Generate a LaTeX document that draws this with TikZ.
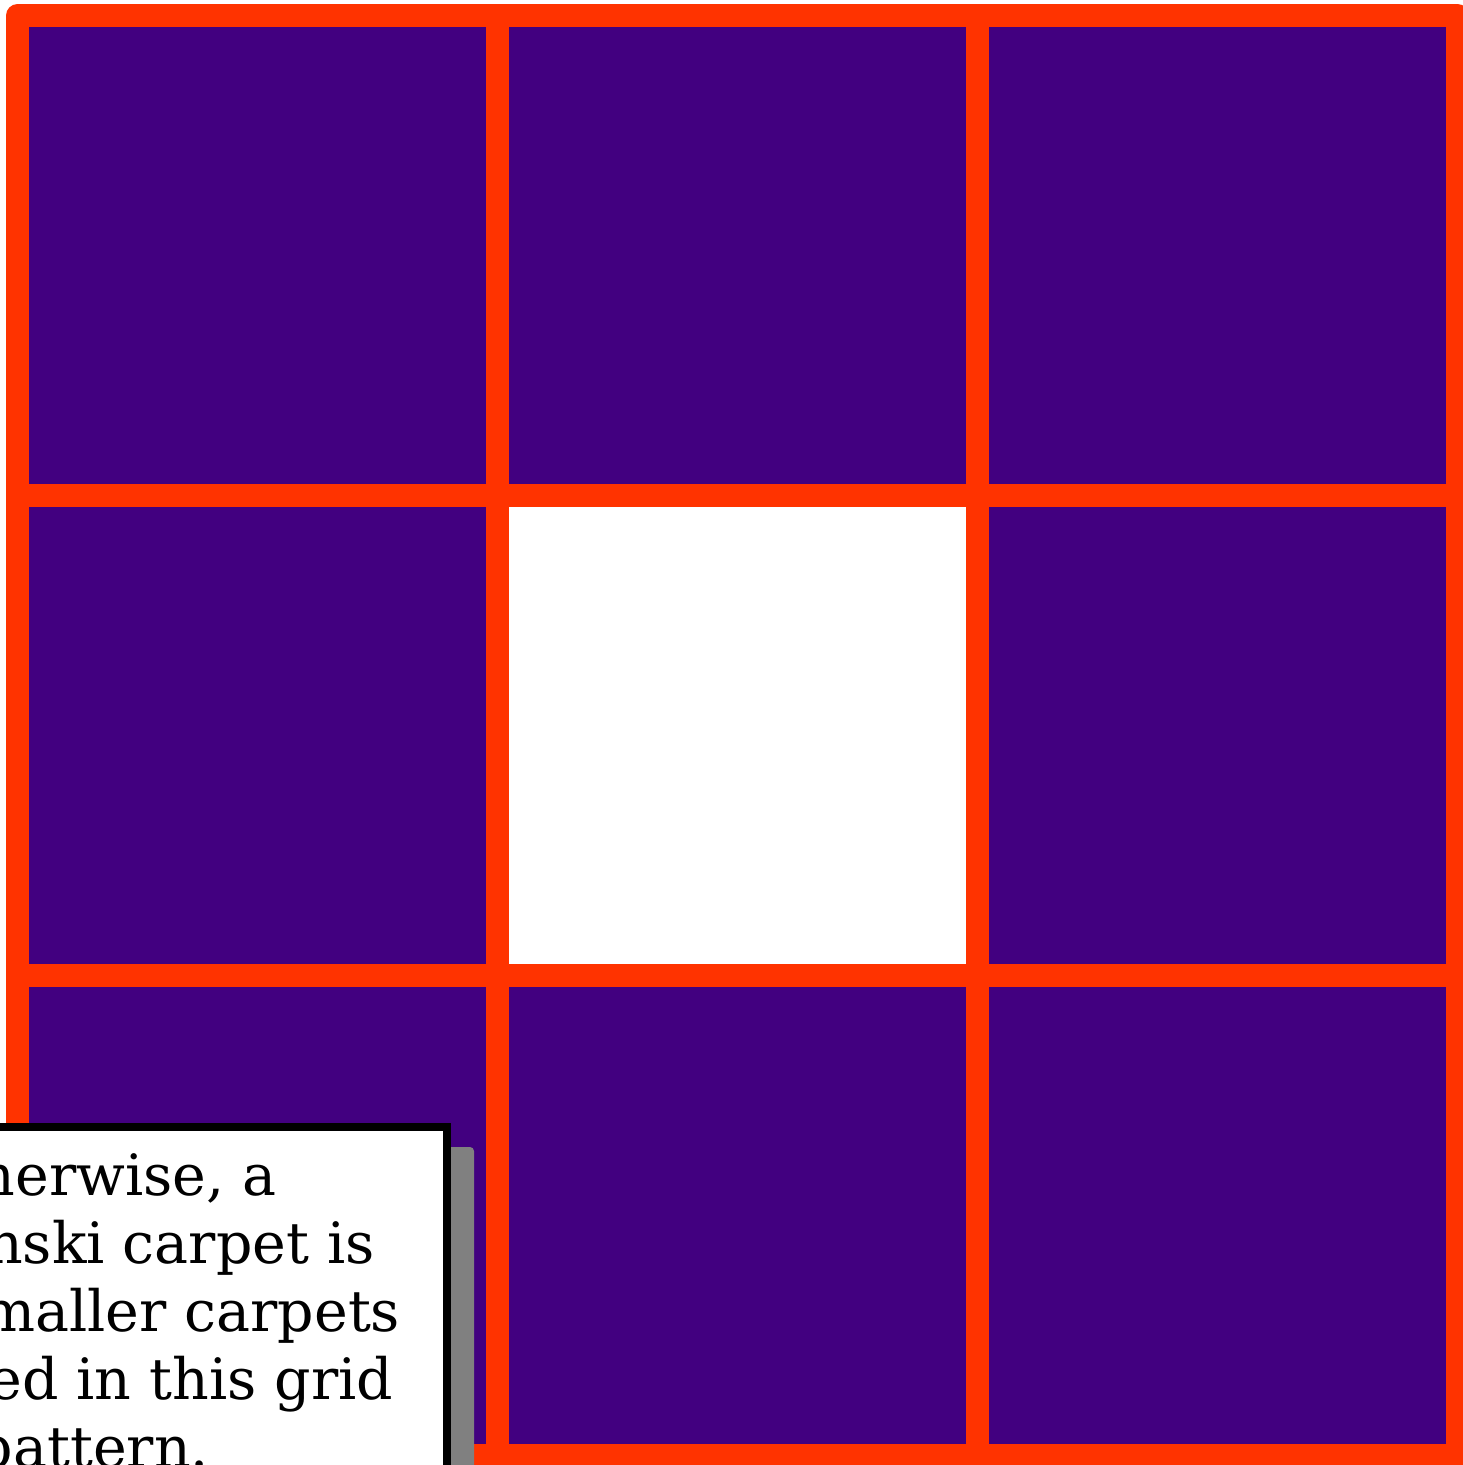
\documentclass[tikz,border=0pt]{standalone}
\usepackage{fontspec}
\setmainfont{DejaVu Serif}
\definecolor{carpet}{RGB}{66,0,128}
\definecolor{gridred}{RGB}{255,51,0}
\definecolor{shadowgray}{RGB}{128,128,128}
\tikzset{
  cell/.style={fill=carpet},
  hole/.style={fill=white},
  gridline/.style={draw=gridred,line width=23pt,line join=round,line cap=round},
  notebox/.style={fill=white,draw=black,line width=8pt},
  noteshadow/.style={fill=shadowgray,rounded corners=4pt},
  noteline/.style={anchor=base,inner sep=0pt,font=\fontsize{57}{68}\selectfont}
}
\begin{document}
\begin{tikzpicture}[x=1pt,y=-1pt]
\useasboundingbox (0,0) rectangle (1463,1465);
\begin{scope}
\clip (0,0) rectangle (1463,1465);
% cells
\foreach \i in {0,1,2}{
  \foreach \j in {0,1,2}{
    \fill[carpet] (17.5+480*\i,15.5+480*\j) rectangle ++(480,480);
  }
}
\fill[hole] (497.5,495.5) rectangle (977.5,975.5);
% grid
\draw[gridline] (17.5,15.5) rectangle (1457.5,1455.5);
\draw[gridline,line cap=butt] (497.5,15.5) -- (497.5,1455.5);
\draw[gridline,line cap=butt] (977.5,15.5) -- (977.5,1455.5);
\draw[gridline,line cap=butt] (17.5,495.5) -- (1457.5,495.5);
\draw[gridline,line cap=butt] (17.5,975.5) -- (1457.5,975.5);
% note box
\fill[noteshadow] (-300+23,1123+24) rectangle (451+23,1600);
\draw[notebox] (-300,1127) rectangle (447,1600);
\node[noteline] (l1) at (93,1195) {Otherwise, a};
\node[noteline] (l2) at (94,1263) {Sierpinski carpet is};
\node[noteline] (l3) at (93,1331) {eight smaller carpets};
\node[noteline] (l4) at (93,1399) {arranged in this grid};
\node[noteline] (l5) at (93,1467) {pattern.};
\end{scope}
\end{tikzpicture}
\end{document}
